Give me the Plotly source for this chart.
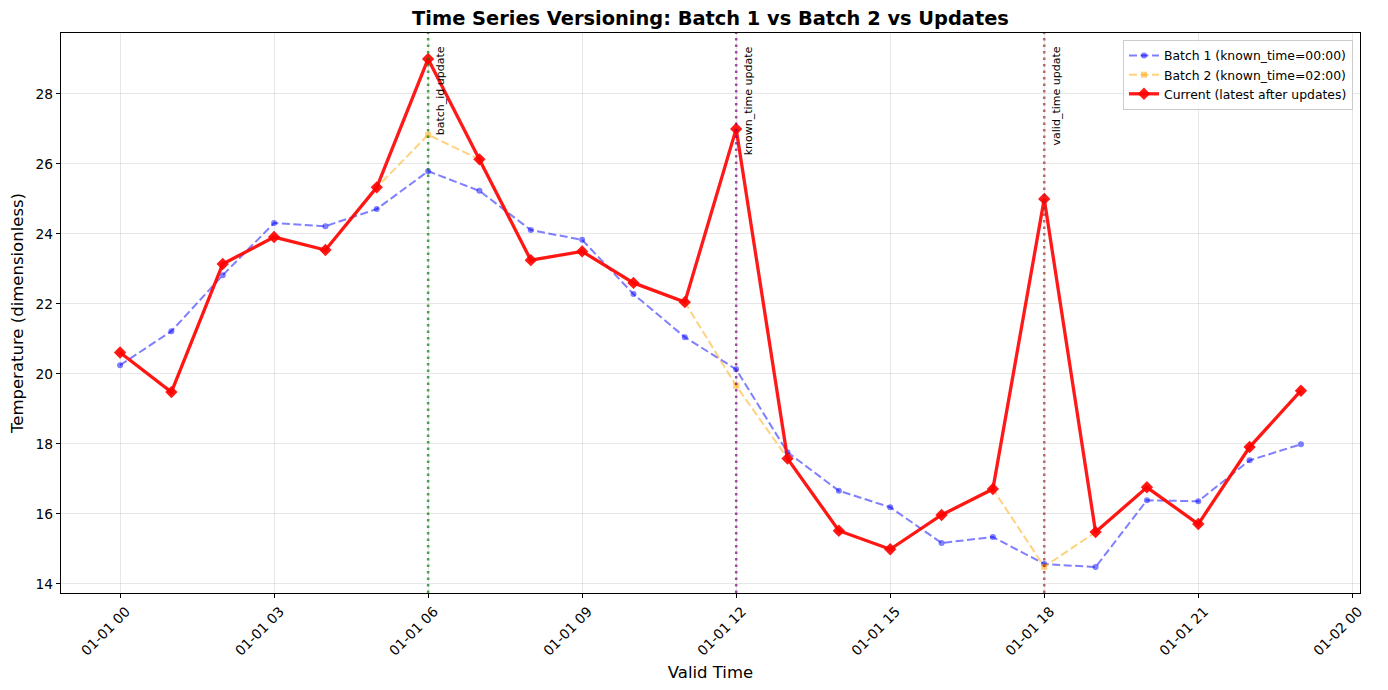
import pandas as pd
import plotly.graph_objects as go

# ---- data ----
hours = list(range(24))
base = pd.Timestamp("2024-01-01 00:00")
valid_time = [base + pd.Timedelta(hours=h) for h in hours]

batch1 = [20.25, 21.22, 22.82, 24.31, 24.22, 24.71, 25.79, 25.23, 24.11, 23.83,
          22.28, 21.05, 20.13, 17.76, 16.66, 16.19, 15.17, 15.34, 14.57, 14.48,
          16.39, 16.36, 17.53, 17.99]
current = [20.61, 19.48, 23.14, 23.91, 23.54, 25.33, 29.0, 26.13, 23.25, 23.5,
           22.6, 22.05, 27.0, 17.58, 15.52, 14.99, 15.97, 16.71, 25.0, 15.48,
           16.76, 15.71, 17.91, 19.52]
batch2 = [20.61, 19.48, 23.14, 23.91, 23.54, 25.33, 26.83, 26.13, 23.25, 23.5,
          22.6, 22.05, 19.66, 17.58, 15.52, 14.99, 15.97, 16.71, 14.49, 15.48,
          16.76, 15.71, 17.91, 19.52]

update_hours = [6, 12, 18]
update_labels = ["batch_id update", "known_time update", "valid_time update"]
update_colors = ["rgba(0,128,0,0.7)", "rgba(128,0,128,0.7)", "rgba(165,42,42,0.7)"]

y_ticks = [14, 16, 18, 20, 22, 24, 26, 28]
x_tick_hours = [0, 3, 6, 9, 12, 15, 18, 21, 24]

FONT = "DejaVu Sans"

fig = go.Figure()

fig.add_trace(go.Scatter(
    x=valid_time, y=batch1, mode="lines+markers",
    name="Batch 1 (known_time=00:00)",
    line=dict(color="rgba(0,0,255,0.5)", width=2, dash="8px,3.5px"),
    marker=dict(symbol="circle", size=6, color="rgba(0,0,255,0.5)"),
))
fig.add_trace(go.Scatter(
    x=valid_time, y=batch2, mode="lines+markers",
    name="Batch 2 (known_time=02:00)",
    line=dict(color="rgba(255,165,0,0.5)", width=2, dash="8px,3.5px"),
    marker=dict(symbol="square", size=6, color="rgba(255,165,0,0.5)"),
))
fig.add_trace(go.Scatter(
    x=valid_time, y=current, mode="lines+markers",
    name="Current (latest after updates)",
    line=dict(color="rgba(255,0,0,0.9)", width=3.3),
    marker=dict(symbol="diamond", size=9.5, color="rgba(255,0,0,0.9)"),
))

for h, lab, col in zip(update_hours, update_labels, update_colors):
    t = base + pd.Timedelta(hours=h)
    fig.add_shape(type="line", xref="x", yref="paper", x0=t, x1=t, y0=0, y1=1,
                  line=dict(color=col, width=2.5, dash="2.5px,4px"), layer="above")
    fig.add_annotation(x=t, y=29.42, xref="x", yref="y", text=lab,
                       textangle=-90, showarrow=False, xanchor="left", yanchor="top",
                       xshift=4, font=dict(family=FONT, size=11, color="black"))

x_range = [base - pd.Timedelta(minutes=69), base + pd.Timedelta(hours=24, minutes=9)]
fig.update_layout(
    width=1388, height=690,
    margin=dict(l=53, r=36, t=25, b=105),
    paper_bgcolor="white", plot_bgcolor="white",
    font=dict(family=FONT, color="black"),
    title=dict(text="<b>Time Series Versioning: Batch 1 vs Batch 2 vs Updates</b>",
               x=0.5, xref="paper", xanchor="center", y=1 - 10 / 690, yanchor="middle",
               font=dict(family=FONT, size=19.4, color="black")),
    showlegend=True,
    legend=dict(x=0.9946, y=0.9875, xanchor="right", yanchor="top",
                bgcolor="rgba(255,255,255,0.8)", bordercolor="#cccccc", borderwidth=1,
                font=dict(family=FONT, size=12.4, color="black"), tracegroupgap=0,
                itemwidth=30),
)
fig.update_xaxes(
    type="date", range=x_range,
    tickmode="array",
    tickvals=[base + pd.Timedelta(hours=h) for h in x_tick_hours],
    ticktext=[(base + pd.Timedelta(hours=h)).strftime("%m-%d %H") for h in x_tick_hours],
    tickangle=-45, tickfont=dict(family=FONT, size=13.8, color="black"),
    ticklabelshift=6,
    ticks="outside", ticklen=4, tickcolor="black",
    showgrid=True, gridcolor="rgba(176,176,176,0.3)", gridwidth=1,
    showline=True, linecolor="black", linewidth=1.2, mirror=True,
    zeroline=False,
    title=dict(text="Valid Time", font=dict(family=FONT, size=16.5, color="black"), standoff=8),
    automargin=False,
)
fig.update_yaxes(
    range=[13.74, 29.74], tickmode="array", tickvals=y_ticks,
    ticktext=[str(v) for v in y_ticks],
    tickfont=dict(family=FONT, size=13.8, color="black"),
    ticks="outside", ticklen=4, tickcolor="black",
    showgrid=True, gridcolor="rgba(176,176,176,0.3)", gridwidth=1,
    showline=True, linecolor="black", linewidth=1.2, mirror=True,
    zeroline=False,
    title=dict(text="Temperature (dimensionless)", font=dict(family=FONT, size=16.5, color="black"), standoff=8),
    automargin=False,
)

fig.write_html("out.html")
